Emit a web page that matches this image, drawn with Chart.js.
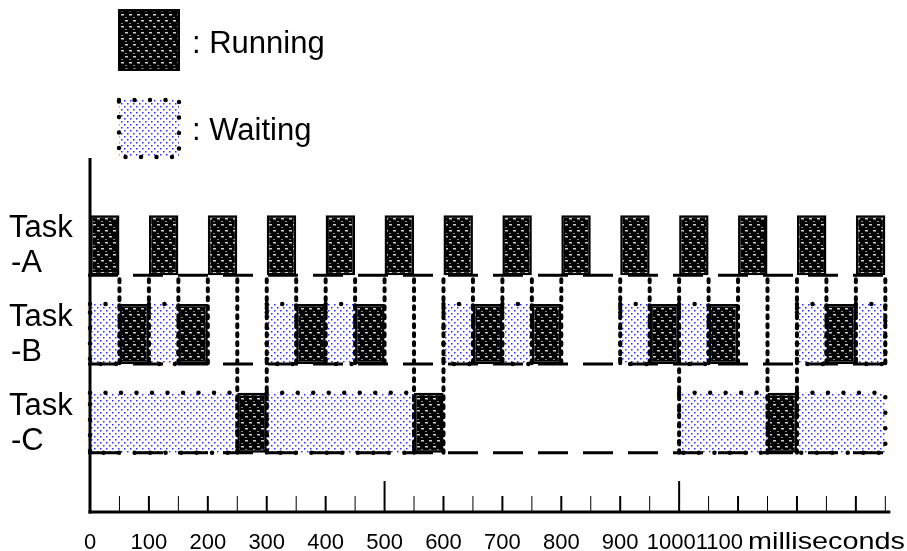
<!DOCTYPE html>
<html>
<head>
<meta charset="utf-8">
<script src="https://cdn.jsdelivr.net/npm/chart.js@4"></script>
<style>
  html, body { margin: 0; padding: 0; background: #fff; }
  #wrap { width: 907px; height: 551px; }
</style>
</head>
<body>
<div id="wrap"><canvas id="timing" width="907" height="551"></canvas></div>
<script>
// ---- timing data, all in milliseconds ----
const tasks = ['A', 'B', 'C'];
const taskLabels = [['Task', '-A'], ['Task', '-B'], ['Task', '-C']];

const runA = [[0, 50], [100, 150], [200, 250], [300, 350], [400, 450], [500, 550], [600, 650],
  [700, 750], [800, 850], [900, 950], [1000, 1050], [1100, 1150], [1200, 1250], [1300, 1350]];
const runB = [[50, 100], [150, 200], [350, 400], [450, 500], [650, 700], [750, 800],
  [950, 1000], [1050, 1100], [1250, 1300]];
const waitB = [[0, 50], [100, 150], [300, 350], [400, 450], [600, 650], [700, 750],
  [900, 950], [1000, 1050], [1200, 1250], [1300, 1350]];
const runC = [[250, 300], [550, 600], [1150, 1200]];
const waitC = [[0, 250], [300, 550], [1000, 1150], [1200, 1350]];

// context switch markers (dotted verticals) going down to task B or task C
const switchB = [50, 100, 150, 200, 350, 400, 450, 500, 650, 700, 750, 800, 900, 950, 1050, 1100, 1250, 1300, 1350];
const switchC = [250, 300, 550, 600, 1000, 1150, 1200];

// axis
const tickLabels = [0, 100, 200, 300, 400, 500, 600, 700, 800, 900, 1000, 1100];
const majorTicks = [500, 1000];
const tickStep = 50;
const timeEnd = 1350;
const unitLabel = 'milliseconds';
const legendItems = [': Running', ': Waiting'];

const FONT = "'Liberation Sans', Arial, sans-serif";

// ----------- PATTERNS -----------
const canvas = document.getElementById('timing');
const ctx0 = canvas.getContext('2d');

function runPattern() {
  const c = document.createElement('canvas');
  c.width = 8; c.height = 12;
  const g = c.getContext('2d');
  g.fillStyle = '#000';
  g.fillRect(0, 0, 8, 12);
  g.fillStyle = '#d0d0d0';
  g.fillRect(1, 2, 3, 1.5);
  g.fillRect(5, 8, 3, 1.5);
  g.fillStyle = '#888';
  g.fillRect(5, 5, 2, 1);
  g.fillRect(1, 11, 2, 1);
  return ctx0.createPattern(c, 'repeat');
}

function waitPattern() {
  const c = document.createElement('canvas');
  c.width = 6; c.height = 6;
  const g = c.getContext('2d');
  g.fillStyle = '#fff';
  g.fillRect(0, 0, 6, 6);
  g.fillStyle = '#2a2aff';
  g.fillRect(1, 1, 1.5, 1.5);
  g.fillRect(4, 4, 1.5, 1.5);
  return ctx0.createPattern(c, 'repeat');
}

const RUN_FILL = runPattern();
const WAIT_FILL = waitPattern();

function segs(list, task) {
  return list.map(s => ({ x: s, y: task }));
}

// ----------- DRAW HELPERS -----------
function dottedRect(ctx, x, y, w, h) {
  ctx.save();
  ctx.strokeStyle = '#000';
  ctx.lineWidth = 4.5;
  ctx.lineCap = 'round';
  ctx.setLineDash([0, 15.5]);
  ctx.strokeRect(x, y, w, h);
  ctx.restore();
}

function line(ctx, x1, y1, x2, y2, width) {
  ctx.lineWidth = width;
  ctx.beginPath();
  ctx.moveTo(x1, y1);
  ctx.lineTo(x2, y2);
  ctx.stroke();
}

// text squeezed/stretched to a given width
function fitText(ctx, txt, x, y, w) {
  const m = ctx.measureText(txt).width;
  ctx.save();
  ctx.translate(x, y);
  ctx.scale(w / m, 1);
  ctx.fillText(txt, 0, 0);
  ctx.restore();
}

const timingPlugin = {
  id: 'timing',
  afterDatasetsDraw(chart) {
    const { ctx } = chart;
    const xs = chart.scales.x;
    const ys = chart.scales.y;
    const half = chart.getDatasetMeta(0).data[0].height / 2;
    const rowBottom = i => ys.getPixelForValue(i) + half;
    const x0 = xs.getPixelForValue(0);
    const xEnd = xs.getPixelForValue(timeEnd);

    // dotted border round waiting blocks
    chart.getDatasetMeta(1).data.forEach(el => {
      const p = el.getProps(['x', 'y', 'base', 'height'], true);
      dottedRect(ctx, p.base, p.y - p.height / 2, p.x - p.base, p.height);
    });

    ctx.save();
    ctx.strokeStyle = '#000';

    // idle baselines
    ctx.setLineDash([30, 15]);
    tasks.forEach((t, i) => line(ctx, x0 - 2, rowBottom(i), xEnd + 3, rowBottom(i), 3));

    // context switch verticals
    ctx.lineCap = 'round';
    ctx.setLineDash([3, 6]);
    switchB.forEach(t => {
      const x = xs.getPixelForValue(t);
      line(ctx, x, rowBottom(0) + 4, x, rowBottom(1), 4);
    });
    switchC.forEach(t => {
      const x = xs.getPixelForValue(t);
      line(ctx, x, rowBottom(0) + 4, x, rowBottom(2), 4);
    });
    ctx.setLineDash([]);
    ctx.lineCap = 'butt';

    // axes
    const axisY = 512;
    line(ctx, x0, 158, x0, axisY + 1.5, 3);
    line(ctx, x0 - 1.5, axisY, xEnd + 5, axisY, 3);
    for (let t = tickStep; t <= timeEnd; t += tickStep) {
      const x = xs.getPixelForValue(t);
      const top = majorTicks.includes(t) ? 481 : 496;
      line(ctx, x, top, x, axisY, t % 100 === 0 ? 2 : 1);
    }

    // tick labels, laid out right to left so they never overlap
    ctx.fillStyle = '#000';
    ctx.textBaseline = 'alphabetic';
    ctx.textAlign = 'left';
    ctx.font = '24px ' + FONT;
    const uw = 157;
    let limit = chart.width - 2 - uw;
    fitText(ctx, unitLabel, limit, 549, uw);
    limit -= 5;
    ctx.font = '22px ' + FONT;
    for (let i = tickLabels.length - 1; i >= 0; i--) {
      const txt = String(tickLabels[i]);
      const w = ctx.measureText(txt).width;
      let left = xs.getPixelForValue(tickLabels[i]) - w / 2;
      if (left + w > limit) left = limit - w;
      ctx.fillText(txt, left, 549);
      limit = left;
    }

    // task names
    ctx.font = '31px ' + FONT;
    taskLabels.forEach((lines, i) => {
      const cy = ys.getPixelForValue(i);
      ctx.fillText(lines[0], 9, cy - 8);
      ctx.fillText(lines[1], 11, cy + 27);
    });

    // legend
    ctx.fillStyle = RUN_FILL;
    ctx.fillRect(118, 9, 62, 62);
    ctx.strokeStyle = '#000';
    ctx.lineWidth = 2.5;
    ctx.strokeRect(119.25, 10.25, 59.5, 59.5);
    ctx.fillStyle = WAIT_FILL;
    ctx.fillRect(119, 100, 60, 57);
    dottedRect(ctx, 119, 100, 60, 57);
    ctx.fillStyle = '#000';
    ctx.font = '31px ' + FONT;
    ctx.fillText(legendItems[0], 192, 53);
    ctx.fillText(legendItems[1], 192, 140);

    ctx.restore();
  }
};

// ----------- CHART -----------
new Chart(canvas, {
  type: 'bar',
  data: {
    labels: tasks,
    datasets: [
      {
        label: 'Running',
        data: [...segs(runA, 'A'), ...segs(runB, 'B'), ...segs(runC, 'C')],
        backgroundColor: RUN_FILL,
        borderColor: '#000',
        borderWidth: 2.5,
        borderSkipped: false
      },
      {
        label: 'Waiting',
        data: [...segs(waitB, 'B'), ...segs(waitC, 'C')],
        backgroundColor: WAIT_FILL,
        borderWidth: 0
      }
    ]
  },
  options: {
    indexAxis: 'y',
    responsive: false,
    animation: false,
    devicePixelRatio: 1,
    layout: { padding: { left: 90, right: 4, top: 201, bottom: 84 } },
    datasets: { bar: { grouped: false, categoryPercentage: 1, barPercentage: 0.677 } },
    scales: {
      x: { type: 'linear', min: 0, max: 1380, display: false },
      y: { type: 'category', display: false }
    },
    plugins: { legend: { display: false }, tooltip: { enabled: false } }
  },
  plugins: [timingPlugin]
});
</script>
</body>
</html>
